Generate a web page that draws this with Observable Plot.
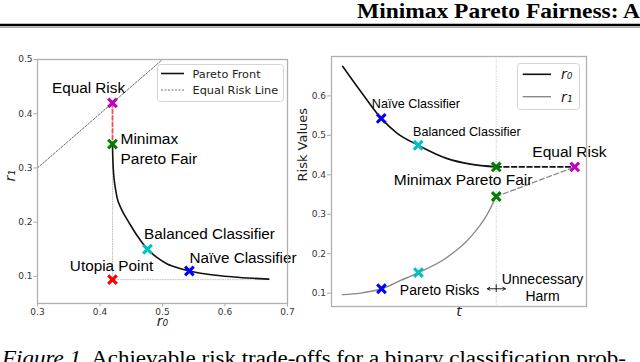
<!DOCTYPE html>
<html><head><meta charset="utf-8">
<script src="https://cdn.jsdelivr.net/npm/d3@7"></script>
<script src="https://cdn.jsdelivr.net/npm/@observablehq/plot@0.6"></script>
<style>
html,body{margin:0;padding:0;background:#fff;}
#page{position:relative;width:640px;height:362px;overflow:hidden;background:#fff;}
#page > *{position:absolute;}
</style></head><body>
<div id="page">
  <svg id="paper" width="640" height="362" style="left:0;top:0"></svg>
  <div id="left" style="left:0;top:0"></div>
  <div id="right" style="left:290px;top:0"></div>
  <svg id="legL" width="128" height="39" style="left:157px;top:64px"></svg>
  <svg id="legR" width="64" height="48" style="left:517px;top:63px"></svg>
</div>
<script>
// ---------- page texts ----------
const headerText = "Minimax Pareto Fairness: A";
const captionLead = "Figure 1.";
const captionText = " Achievable risk trade-offs for a binary classification prob-";

// ---------- left panel data ----------
const xTicksL = [0.3, 0.4, 0.5, 0.6, 0.7];
const yTicksL = [0.1, 0.2, 0.3, 0.4, 0.5];
const paretoR0 = [0.420, 0.4204, 0.4212, 0.4225, 0.425, 0.4285, 0.436, 0.446, 0.459, 0.476, 0.491, 0.5075, 0.525, 0.543, 0.575, 0.614, 0.645, 0.670];
const paretoR1 = [0.344, 0.322, 0.300, 0.280, 0.260, 0.240, 0.220, 0.200, 0.176, 0.150, 0.135, 0.123, 0.1155, 0.110, 0.1035, 0.099, 0.0965, 0.095];
const equalRiskR = [0.3, 0.5];
const pointNames = ["Equal Risk", "Minimax Pareto Fair", "Balanced Classifier", "Naïve Classifier", "Utopia Point"];
const pointColors = ["#c000c0", "#008000", "#00bfbf", "#0000ff", "#ff0000"];
const pointR0 = [0.42, 0.42, 0.476, 0.543, 0.42];
const pointR1 = [0.42, 0.344, 0.150, 0.110, 0.094];
const labelTextL = ["Equal Risk", "Minimax\nPareto Fair", "Balanced Classifier", "Naïve Classifier", "Utopia Point"];
const labelR0 = [0.3816, 0.4328, 0.5752, 0.6288, 0.4184];
const labelR1 = [0.4465, 0.337, 0.1785, 0.1344, 0.1197];
const labelAnchorL = ["middle", "start", "middle", "middle", "middle"];

// ---------- right panel data ----------
const yTicksR = [0.1, 0.2, 0.3, 0.4, 0.5, 0.6];
const r0T = [0.044, 0.114, 0.195, 0.258, 0.340, 0.454, 0.545, 0.646];
const r0V = [0.675, 0.612, 0.543, 0.505, 0.475, 0.441, 0.427, 0.420];
const r1T = [0.043, 0.114, 0.196, 0.271, 0.341, 0.454, 0.545, 0.611, 0.646];
const r1V = [0.096, 0.100, 0.111, 0.132, 0.152, 0.191, 0.242, 0.300, 0.345];
const tMinimax = 0.646, tEqual = 0.954, riskEqual = 0.42;
const ptsRT = [0.195, 0.340, 0.646, 0.954, 0.196, 0.341, 0.646];
const ptsRV = [0.543, 0.475, 0.420, 0.420, 0.111, 0.152, 0.345];
const ptsRC = ["#0000ff", "#00bfbf", "#008000", "#c000c0", "#0000ff", "#00bfbf", "#008000"];
const labelTextR = ["Naïve Classifier", "Balanced Classifier", "Equal Risk", "Minimax Pareto Fair", "Pareto Risks", "Unnecessary\nHarm"];
const labelRT = [0.331, 0.531, 0.933, 0.516, 0.4235, 0.8275];
const labelRV = [0.5815, 0.511, 0.4597, 0.3886, 0.110, 0.1157];
const labelRSize = [12.6, 12.6, 15.5, 15.5, 14, 14];
const arrowY = 0.111, arrowLeft = 0.611, arrowRight = 0.682, arrowTick = [0.102, 0.121];

// ---------- paper ----------
const NS = "http://www.w3.org/2000/svg";
function el(parent, tag, attrs, text) {
  const e = document.createElementNS(NS, tag);
  for (const k in attrs) e.setAttribute(k, attrs[k]);
  if (text != null) e.textContent = text;
  parent.appendChild(e);
  return e;
}
const paper = document.getElementById("paper");
el(paper, "text", {x: 357, y: 18, "font-family": "Liberation Serif", "font-weight": "bold", "font-size": 22, textLength: 283, lengthAdjust: "spacingAndGlyphs", fill: "#000"}, headerText);
el(paper, "line", {x1: 0, x2: 640, y1: 25, y2: 25, stroke: "#000", "stroke-width": 2.4});
el(paper, "line", {x1: 0, x2: 640, y1: 27.4, y2: 27.4, stroke: "#aaa", "stroke-width": 1.2});
const cap = el(paper, "text", {x: 2, y: 365, "font-family": "Liberation Serif", "font-size": 20.5, textLength: 624, lengthAdjust: "spacingAndGlyphs", fill: "#000"});
el(cap, "tspan", {"font-style": "italic"}, captionLead);
el(cap, "tspan", {}, captionText);

// ---------- left chart ----------
const front = paretoR0.map((r0, i) => ({r0, r1: paretoR1[i]}));
const eqLine = equalRiskR.map(v => ({r0: v, r1: v}));
const pts = pointR0.map((r0, i) => ({r0, r1: pointR1[i], c: pointColors[i], name: pointNames[i]}));
const labsL = labelTextL.map((t, i) => ({t, r0: labelR0[i], r1: labelR1[i], a: labelAnchorL[i]}));
const utopia = pts[4], minimax = pts[1], equal = pts[0];
const guideV = [{r0: utopia.r0, r1: utopia.r1}, {r0: minimax.r0, r1: minimax.r1}];
const guideH = [{r0: utopia.r0, r1: utopia.r1}, {r0: paretoR0[paretoR0.length - 1], r1: utopia.r1}];
const redDash = [{r0: equal.r0, r1: equal.r1}, {r0: minimax.r0, r1: minimax.r1}];
const bigFont = "Liberation Sans";

const left = Plot.plot({
  width: 310, height: 340,
  marginLeft: 37, marginRight: 23, marginTop: 59, marginBottom: 37,
  x: {domain: [0.3, 0.7]},
  y: {domain: [0.05, 0.5]},
  style: {fontFamily: "DejaVu Sans", fontSize: "9px", background: "transparent", overflow: "visible"},
  marks: [
    Plot.axisX(xTicksL, {tickSize: 3.5, tickPadding: 1.5, tickFormat: d => d.toFixed(1), stroke: "#aaa", fill: "#333", label: null, fontSize: 9}),
    Plot.axisY(yTicksL, {tickSize: 3.5, tickPadding: 1.5, tickFormat: d => d.toFixed(1), stroke: "#aaa", fill: "#333", label: null, fontSize: 9}),
    Plot.line(eqLine, {x: "r0", y: "r1", stroke: "#444", strokeWidth: 0.8, strokeDasharray: "2,1.5"}),
    Plot.line(guideV, {x: "r0", y: "r1", stroke: "#c4c4c4", strokeWidth: 1, strokeDasharray: "1,1.5"}),
    Plot.line(guideH, {x: "r0", y: "r1", stroke: "#c4c4c4", strokeWidth: 1, strokeDasharray: "1,1.5"}),
    Plot.line(front, {x: "r0", y: "r1", curve: "catmull-rom", stroke: "#111", strokeWidth: 1.6}),
    Plot.line(redDash, {x: "r0", y: "r1", stroke: "#f05050", strokeWidth: 1.8, strokeDasharray: "4,2.5"}),
    Plot.dot(pts, {x: "r0", y: "r1", symbol: "times", stroke: "c", r: 4, strokeWidth: 3.1}),
    Plot.text(labsL, {x: "r0", y: "r1", text: "t", textAnchor: "start", filter: d => d.a === "start", fontFamily: bigFont, fontSize: 15.5, fill: "#000", lineHeight: 1.25}),
    Plot.text(labsL, {x: "r0", y: "r1", text: "t", filter: d => d.a === "middle", fontFamily: bigFont, fontSize: 15.3, fill: "#000"}),
    Plot.text(["r₀"], {text: d => d, frameAnchor: "bottom", dy: 22, fontStyle: "italic", fontSize: 14, fontFamily: "DejaVu Sans", fill: "#222"}),
    Plot.text(["r₁"], {text: d => d, frameAnchor: "left", dx: -27, rotate: -90, fontStyle: "italic", fontSize: 14, fontFamily: "DejaVu Sans", fill: "#222"}),
    Plot.frame({stroke: "#b0b0b0", strokeWidth: 1.3})
  ]
});
document.getElementById("left").appendChild(left);

// ---------- right chart ----------
const r0Line = r0T.map((t, i) => ({t, v: r0V[i]}));
const r1Line = r1T.map((t, i) => ({t, v: r1V[i]}));
const ptsR = ptsRT.map((t, i) => ({t, v: ptsRV[i], c: ptsRC[i]}));
const labsR = labelTextR.map((s, i) => ({s, t: labelRT[i], v: labelRV[i], f: labelRSize[i]}));
const dashBlack = [{t: tMinimax, v: riskEqual}, {t: tEqual, v: riskEqual}];
const dashGrey = [{t: tMinimax, v: r1V[r1V.length - 1]}, {t: tEqual, v: riskEqual}];
const arrows = [{x1: tMinimax, x2: arrowLeft}, {x1: tMinimax, x2: arrowRight}];

const right = Plot.plot({
  width: 340, height: 340,
  marginLeft: 41, marginRight: 44, marginTop: 56, marginBottom: 34,
  x: {domain: [0, 1], axis: null},
  y: {domain: [0.066, 0.70]},
  style: {fontFamily: "DejaVu Sans", fontSize: "9px", background: "transparent", overflow: "visible"},
  marks: [
    Plot.axisY(yTicksR, {tickSize: 4, tickPadding: 1.5, tickFormat: d => d.toFixed(1), stroke: "#aaa", fill: "#333", label: null, fontSize: 9}),
    Plot.ruleX([tMinimax], {stroke: "#c4c4c4", strokeWidth: 1, strokeDasharray: "1,1.5"}),
    Plot.line(r1Line, {x: "t", y: "v", curve: "monotone-x", stroke: "#888", strokeWidth: 1.4}),
    Plot.line(r0Line, {x: "t", y: "v", curve: "monotone-x", stroke: "#111", strokeWidth: 1.6}),
    Plot.line(dashBlack, {x: "t", y: "v", stroke: "#111", strokeWidth: 1.6, strokeDasharray: "5,2.7"}),
    Plot.line(dashGrey, {x: "t", y: "v", stroke: "#888", strokeWidth: 1.3, strokeDasharray: "5,2.7"}),
    Plot.dot(ptsR, {x: "t", y: "v", symbol: "times", stroke: "c", r: 4, strokeWidth: 3.1}),
    Plot.arrow(arrows, {x1: "x1", x2: "x2", y1: () => arrowY, y2: () => arrowY, stroke: "#222", strokeWidth: 1, headLength: 5, bend: 0}),
    Plot.ruleX([tMinimax], {y1: arrowTick[0], y2: arrowTick[1], stroke: "#222", strokeWidth: 1}),
    Plot.text(labsR, {x: "t", y: "v", text: "s", fontSize: "f", fontFamily: bigFont, fill: "#000", lineHeight: 1.2}),
    Plot.text(["t"], {text: d => d, frameAnchor: "bottom", dy: 9, fontStyle: "italic", fontSize: 14, fontFamily: "DejaVu Sans", fill: "#222"}),
    Plot.text(["Risk Values"], {text: d => d, frameAnchor: "left", dx: -29, rotate: -90, fontSize: 13, fontFamily: "DejaVu Sans", fill: "#222"}),
    Plot.frame({stroke: "#b0b0b0", strokeWidth: 1.3})
  ]
});
document.getElementById("right").appendChild(right);

// ---------- legends ----------
const legL = document.getElementById("legL");
el(legL, "rect", {x: 0.5, y: 0.5, width: 126, height: 37, rx: 3, fill: "#fff", stroke: "#d4d4d4"});
el(legL, "line", {x1: 4, x2: 27, y1: 9.5, y2: 9.5, stroke: "#111", "stroke-width": 1.6});
el(legL, "text", {x: 35.5, y: 13.5, "font-family": "DejaVu Sans", "font-size": 11.3, fill: "#222"}, "Pareto Front");
el(legL, "line", {x1: 4, x2: 27, y1: 26, y2: 26, stroke: "#444", "stroke-width": 0.8, "stroke-dasharray": "2,1.5"});
el(legL, "text", {x: 35.5, y: 30, "font-family": "DejaVu Sans", "font-size": 11.3, fill: "#222"}, "Equal Risk Line");

const legR = document.getElementById("legR");
el(legR, "rect", {x: 0.5, y: 0.5, width: 62, height: 46, rx: 3, fill: "#fff", stroke: "#d4d4d4"});
el(legR, "line", {x1: 5.7, x2: 34, y1: 11.3, y2: 11.3, stroke: "#111", "stroke-width": 1.6});
el(legR, "text", {x: 44, y: 16, "font-family": "DejaVu Sans", "font-style": "italic", "font-size": 14, fill: "#222"}, "r₀");
el(legR, "line", {x1: 5.7, x2: 34, y1: 33.7, y2: 33.7, stroke: "#888", "stroke-width": 1.4});
el(legR, "text", {x: 44, y: 38.5, "font-family": "DejaVu Sans", "font-style": "italic", "font-size": 14, fill: "#222"}, "r₁");
</script>
</body></html>
